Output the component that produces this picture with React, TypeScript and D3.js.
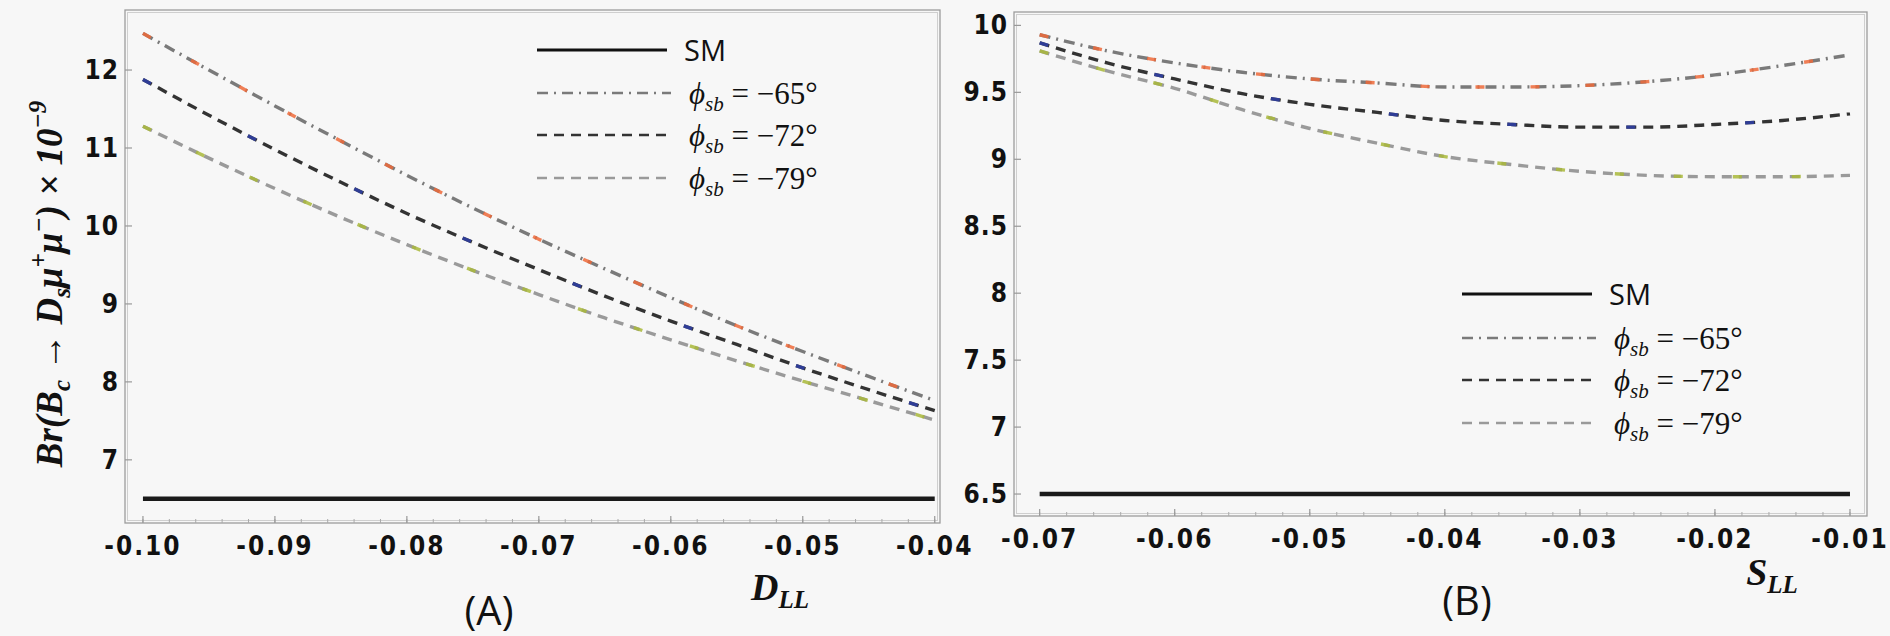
import * as d3 from "d3";

// panel (A): Br vs D_LL
const dLL = [-0.1, -0.095, -0.09, -0.085, -0.08, -0.075, -0.07, -0.065, -0.06, -0.055, -0.05, -0.045, -0.04];
const brA65 = [12.47, 12.0, 11.54, 11.09, 10.65, 10.23, 9.83, 9.45, 9.08, 8.72, 8.39, 8.07, 7.76];
const brA72 = [11.88, 11.42, 10.98, 10.56, 10.16, 9.79, 9.44, 9.1, 8.78, 8.48, 8.18, 7.9, 7.63];
const brA79 = [11.28, 10.87, 10.48, 10.11, 9.76, 9.43, 9.12, 8.82, 8.54, 8.27, 8.01, 7.76, 7.51];

// panel (B): Br vs S_LL
const sLL = [-0.07, -0.065, -0.06, -0.055, -0.05, -0.045, -0.04, -0.035, -0.03, -0.025, -0.02, -0.015, -0.01];
const brB65 = [9.93, 9.81, 9.72, 9.65, 9.6, 9.57, 9.54, 9.54, 9.55, 9.58, 9.63, 9.7, 9.78];
const brB72 = [9.87, 9.72, 9.6, 9.49, 9.41, 9.35, 9.29, 9.26, 9.24, 9.24, 9.26, 9.29, 9.34];
const brB79 = [9.81, 9.66, 9.53, 9.37, 9.23, 9.12, 9.02, 8.96, 8.91, 8.88, 8.87, 8.87, 8.88];

const smValue = 6.5;
const legendAngles = ["−65°", "−72°", "−79°"];

const xTicksA = [-0.1, -0.09, -0.08, -0.07, -0.06, -0.05, -0.04];
const yTicksA = [7, 8, 9, 10, 11, 12];
const xTicksB = [-0.07, -0.06, -0.05, -0.04, -0.03, -0.02, -0.01];
const yTicksB = [6.5, 7, 7.5, 8, 8.5, 9, 9.5, 10];

const BG = "#f7f7f7";
const TICK_FONT = "'Liberation Sans Narrow', 'DejaVu Sans Condensed', 'Liberation Sans', sans-serif";
const MATH_FONT = "'Liberation Serif', 'DejaVu Serif', serif";

const styles = [
  { stroke: "#7a7a7a", dash: "11 6 2 6", accent: "#ee6a3a", accentDash: "9 46" },
  { stroke: "#333333", dash: "10 7", accent: "#2f3fa8", accentDash: "9 110" },
  { stroke: "#9a9a9a", dash: "10 7", accent: "#a9b83a", accentDash: "9 50" },
];

type PanelProps = {
  xs: number[];
  series: number[][];
  x: d3.ScaleLinear<number, number>;
  y: d3.ScaleLinear<number, number>;
  xTicks: number[];
  yTicks: number[];
  minorX: number;
  legend: { x: number; rows: number[] };
  tag: string;
  tagX: number;
  tagY: number;
  axisVar: string;
  axisX: number;
  axisY: number;
};

const LegendText = ({ x, y, angle }: { x: number; y: number; angle: string }) => (
  <text x={x} y={y} fontFamily={MATH_FONT} fontSize={31} fill="#111">
    <tspan fontStyle="italic">ϕ</tspan>
    <tspan fontStyle="italic" fontSize={21} dy={7}>sb</tspan>
    <tspan dy={-7}>{` = ${angle}`}</tspan>
  </text>
);

const Panel = (p: PanelProps) => {
  const [x0, x1] = p.x.range();
  const [y0, y1] = p.y.range(); // y0 bottom, y1 top
  const line = d3
    .line<number>()
    .x((_, i) => p.x(p.xs[i]))
    .y((d) => p.y(d))
    .curve(d3.curveMonotoneX);
  const dom = p.x.domain();
  const minor = d3.range(Math.ceil(dom[0] / p.minorX), Math.floor(dom[1] / p.minorX) + 1).map((k) => k * p.minorX);
  const xFirst = p.xs[0];
  const xLast = p.xs[p.xs.length - 1];
  return (
    <g>
      {/* frame, double gray line */}
      <rect x={x0} y={y1} width={x1 - x0} height={y0 - y1} fill={BG} stroke="#9d9d9d" strokeWidth={1.3} />
      <rect x={x0 + 2.5} y={y1 + 2.5} width={x1 - x0 - 5} height={y0 - y1 - 5} fill="none" stroke="#cfcfcf" strokeWidth={1} />

      {minor.map((t, i) => (
        <line key={"m" + i} x1={p.x(t)} x2={p.x(t)} y1={y0} y2={y0 - 4} stroke="#aaa" strokeWidth={1} />
      ))}
      {p.xTicks.map((t) => (
        <g key={"x" + t}>
          <line x1={p.x(t)} x2={p.x(t)} y1={y0} y2={y0 - 7} stroke="#999" strokeWidth={1.2} />
          <text x={p.x(t)} y={y0 + 32} textAnchor="middle" fontFamily={TICK_FONT} fontWeight="bold" fontSize={26} letterSpacing={2} fill="#111">
            {t.toFixed(2)}
          </text>
        </g>
      ))}
      {p.yTicks.map((t) => (
        <g key={"y" + t}>
          <line x1={x0} x2={x0 + 7} y1={p.y(t)} y2={p.y(t)} stroke="#999" strokeWidth={1.2} />
          <text x={x0 - 6} y={p.y(t) + 9} textAnchor="end" fontFamily={TICK_FONT} fontWeight="bold" fontSize={26} letterSpacing={1} fill="#111">
            {String(t)}
          </text>
        </g>
      ))}

      {/* SM reference */}
      <line x1={p.x(xFirst)} x2={p.x(xLast)} y1={p.y(smValue)} y2={p.y(smValue)} stroke="#1a1a1a" strokeWidth={4.5} />

      {p.series.map((s, i) => (
        <g key={"s" + i}>
          <path d={line(s) ?? ""} fill="none" stroke={styles[i].stroke} strokeWidth={3.4} strokeDasharray={styles[i].dash} />
          <path d={line(s) ?? ""} fill="none" stroke={styles[i].accent} strokeWidth={3.4} strokeDasharray={styles[i].accentDash} opacity={0.85} />
        </g>
      ))}

      {/* legend */}
      <line x1={p.legend.x} x2={p.legend.x + 130} y1={p.legend.rows[0]} y2={p.legend.rows[0]} stroke="#111" strokeWidth={3} />
      <text x={p.legend.x + 147} y={p.legend.rows[0] + 11} fontFamily="'Open Sans', sans-serif" fontSize={29} fill="#111">SM</text>
      {legendAngles.map((a, i) => (
        <g key={"l" + i}>
          <line x1={p.legend.x} x2={p.legend.x + 134} y1={p.legend.rows[i + 1]} y2={p.legend.rows[i + 1]} stroke={styles[i].stroke} strokeWidth={2.6} strokeDasharray={styles[i].dash} />
          <LegendText x={p.legend.x + 152} y={p.legend.rows[i + 1] + 11} angle={a} />
        </g>
      ))}

      <text x={p.tagX} y={p.tagY} textAnchor="middle" fontFamily="'Open Sans', sans-serif" fontSize={40} fill="#111">{p.tag}</text>
      <text x={p.axisX} y={p.axisY} textAnchor="middle" fontFamily={MATH_FONT} fontWeight="bold" fontStyle="italic" fontSize={38} fill="#111">
        {p.axisVar}
        <tspan fontSize={25} dy={8}>LL</tspan>
      </text>
    </g>
  );
};

export default function App() {
  const xA = d3.scaleLinear().domain([-0.10136, -0.0396]).range([125, 940]);
  const yA = d3.scaleLinear().domain([6.19, 12.77]).range([523, 10]);
  const xB = d3.scaleLinear().domain([-0.0719, -0.00874]).range([1014, 1867]);
  const yB = d3.scaleLinear().domain([6.336, 10.1]).range([516, 12]);

  return (
    <svg width={1890} height={636} style={{ position: "absolute", left: 0, top: 0, background: BG }}>
      <rect width={1890} height={636} fill={BG} />
      <Panel
        xs={dLL}
        series={[brA65, brA72, brA79]}
        x={xA}
        y={yA}
        xTicks={xTicksA}
        yTicks={yTicksA}
        minorX={0.002}
        legend={{ x: 537, rows: [50, 93, 135, 178] }}
        tag="(A)"
        tagX={489}
        tagY={625}
        axisVar="D"
        axisX={780}
        axisY={600}
      />
      <Panel
        xs={sLL}
        series={[brB65, brB72, brB79]}
        x={xB}
        y={yB}
        xTicks={xTicksB}
        yTicks={yTicksB}
        minorX={0.002}
        legend={{ x: 1462, rows: [294, 338, 380, 423] }}
        tag="(B)"
        tagX={1467}
        tagY={615}
        axisVar="S"
        axisX={1772}
        axisY={585}
      />
      <text
        transform="translate(62,284) rotate(-90)"
        textAnchor="middle"
        fontFamily={MATH_FONT}
        fontWeight="bold"
        fontStyle="italic"
        fontSize={37}
        fill="#111"
      >
        Br(B<tspan fontSize={25} dy={8}>c</tspan>
        <tspan dy={-8}>{" → D"}</tspan>
        <tspan fontSize={25} dy={8}>s</tspan>
        <tspan dy={-8}>μ</tspan>
        <tspan fontSize={25} dy={-15}>+</tspan>
        <tspan dy={15}>μ</tspan>
        <tspan fontSize={25} dy={-15}>−</tspan>
        <tspan dy={15}>{") × 10"}</tspan>
        <tspan fontSize={25} dy={-16}>−9</tspan>
      </text>
    </svg>
  );
}
